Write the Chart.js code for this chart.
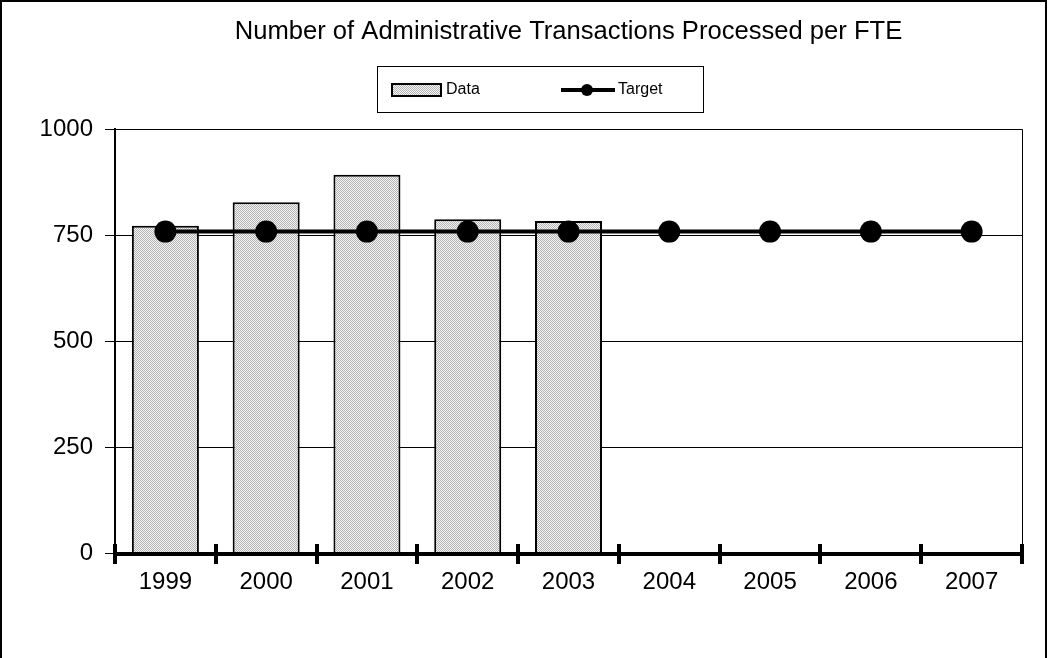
<!DOCTYPE html>
<html>
<head>
<meta charset="utf-8">
<script src="https://cdn.jsdelivr.net/npm/chart.js@4/dist/chart.umd.min.js"></script>
<style>
  html, body { margin: 0; padding: 0; background: #fff; }
  #wrap { width: 1055px; height: 658px; }
</style>
</head>
<body>
<div id="wrap"><canvas id="chart" width="1055" height="658"></canvas></div>
<script>
// chart data
const years = ['1999', '2000', '2001', '2002', '2003', '2004', '2005', '2006', '2007'];
const dataValues = [772, 827, 892, 787, 783, null, null, null, null];
const targetValues = [758, 758, 758, 758, 758, 758, 758, 758, 758];
const yTicks = [0, 250, 500, 750, 1000];
const titleText = 'Number of Administrative Transactions Processed per FTE';

const FONT = 'Arial, "Liberation Sans", sans-serif';

function dotPattern() {
  const c = document.createElement('canvas');
  c.width = 2; c.height = 2;
  const g = c.getContext('2d');
  g.fillStyle = '#f4f4f4';
  g.fillRect(0, 0, 2, 2);
  g.fillStyle = '#b4b4b4';
  g.fillRect(0, 0, 1, 1);
  g.fillRect(1, 1, 1, 1);
  return g.createPattern(c, 'repeat');
}

const ctx = document.getElementById('chart').getContext('2d');
const pattern = dotPattern();

// frame, title, legend box, x axis with crossing ticks
const decorations = {
  id: 'decorations',
  beforeDraw(chart) {
    const c = chart.ctx;
    c.save();
    c.fillStyle = '#fff';
    c.fillRect(0, 0, chart.width, chart.height);
    c.strokeStyle = '#000';
    c.lineWidth = 2;
    c.strokeRect(1, 1, 1045, 700);
    c.restore();
  },
  afterDatasetsDraw(chart) {
    const c = chart.ctx;
    const a = chart.chartArea;
    const x = chart.scales.x;
    c.save();
    // plot box top / right
    c.strokeStyle = '#000';
    c.lineWidth = 1;
    c.beginPath();
    c.moveTo(a.left, a.top + 0.5);
    c.lineTo(a.right + 0.5, a.top + 0.5);
    c.lineTo(a.right + 0.5, a.bottom);
    c.stroke();
    // x axis
    c.lineWidth = 4;
    c.beginPath();
    c.moveTo(a.left - 2, a.bottom + 1);
    c.lineTo(a.right + 2, a.bottom + 1);
    c.stroke();
    for (let i = 0; i <= years.length; i++) {
      const px = Math.round(x.getPixelForValue(i - 0.5));
      c.beginPath();
      c.moveTo(px, a.bottom - 9);
      c.lineTo(px, a.bottom + 11);
      c.stroke();
    }
    c.restore();
  },
  afterDraw(chart) {
    const c = chart.ctx;
    const a = chart.chartArea;
    c.save();
    // title
    c.fillStyle = '#000';
    c.font = '25.6px ' + FONT;
    c.textAlign = 'center';
    c.textBaseline = 'middle';
    c.fillText(titleText, (a.left + a.right) / 2, 32);
    // legend box
    c.strokeStyle = '#000';
    c.lineWidth = 1;
    c.strokeRect(377.5, 66.5, 326, 46);
    c.fillStyle = pattern;
    c.fillRect(392, 84, 49, 12);
    c.lineWidth = 2;
    c.strokeRect(392, 84, 49, 12);
    c.fillStyle = '#000';
    c.font = '16px ' + FONT;
    c.textAlign = 'left';
    c.fillText('Data', 446, 90);
    c.lineWidth = 4;
    c.beginPath();
    c.moveTo(561, 90);
    c.lineTo(615, 90);
    c.stroke();
    c.beginPath();
    c.arc(587, 90, 6, 0, Math.PI * 2);
    c.fill();
    c.fillText('Target', 618, 90);
    c.restore();
  }
};

new Chart(ctx, {
  data: {
    labels: years,
    datasets: [
      {
        type: 'line',
        label: 'Target',
        data: targetValues,
        borderColor: '#000',
        borderWidth: 4,
        pointRadius: 11,
        pointBackgroundColor: '#000',
        pointBorderColor: '#000',
        pointBorderWidth: 0,
        fill: false,
        tension: 0,
        order: 0
      },
      {
        type: 'bar',
        label: 'Data',
        data: dataValues,
        backgroundColor: pattern,
        borderColor: '#000',
        borderWidth: 2,
        borderSkipped: 'bottom',
        categoryPercentage: 1,
        barPercentage: 0.665,
        order: 1
      }
    ]
  },
  options: {
    responsive: false,
    animation: false,
    devicePixelRatio: 1,
    layout: { padding: { top: 129, right: 33, bottom: 0, left: 0 } },
    plugins: {
      legend: { display: false },
      title: { display: false },
      tooltip: { enabled: false }
    },
    scales: {
      x: {
        offset: true,
        grid: { display: false },
        border: { display: false },
        ticks: {
          color: '#000',
          font: { family: FONT, size: 24 },
          padding: 7,
          maxRotation: 0
        },
        afterFit: s => { s.height = 105; }
      },
      y: {
        min: 0,
        max: 1000,
        afterBuildTicks: s => { s.ticks = yTicks.map(v => ({ value: v })); },
        grid: { color: '#000', lineWidth: 1, tickLength: 10 },
        border: { color: '#000', width: 2 },
        ticks: {
          color: '#000',
          font: { family: FONT, size: 24 },
          padding: 12,
          callback: v => String(v)
        },
        afterFit: s => { s.width = 115; }
      }
    }
  },
  plugins: [decorations]
});
</script>
</body>
</html>
